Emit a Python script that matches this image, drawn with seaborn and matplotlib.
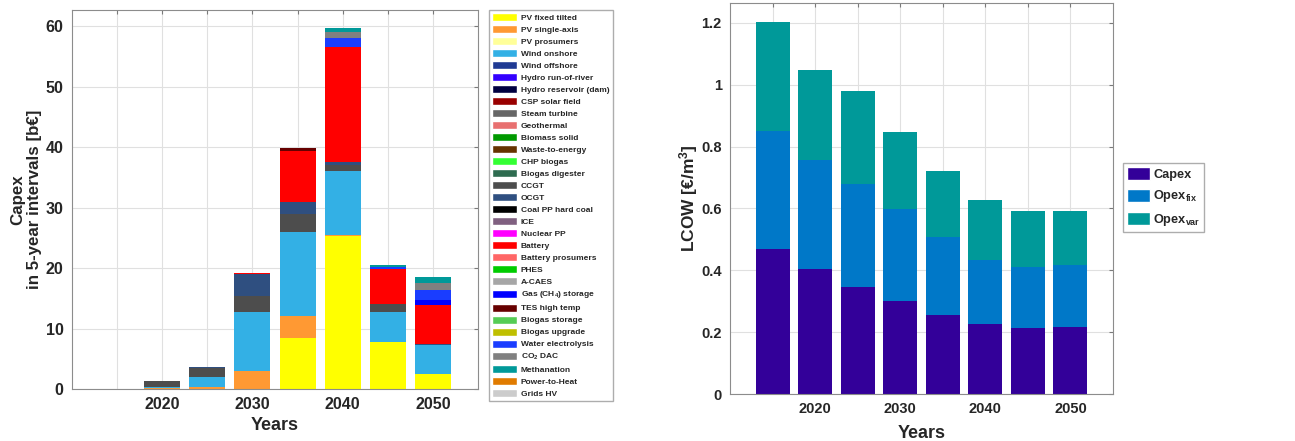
import numpy as np
import pandas as pd
import seaborn as sns
import matplotlib.pyplot as plt
from matplotlib.patches import Patch
from matplotlib.ticker import FormatStrFormatter

# ---- left chart: capex per technology (b€), 5-year steps ----
years_capex = [2020, 2025, 2030, 2035, 2040, 2045, 2050]

pv_fixed = [0, 0, 0, 8.5, 25.3, 7.8, 2.5]
pv_single = [0.2, 0.3, 3.0, 3.6, 0.1, 0, 0]
wind_on = [0.2, 1.7, 9.8, 13.9, 10.6, 4.9, 4.7]
ccgt = [0.9, 1.5, 2.6, 3.0, 1.0, 1.4, 0]
ocgt = [0, 0.1, 3.6, 2.0, 0.5, 0, 0.2]
battery = [0, 0, 0.25, 8.4, 19.0, 5.8, 6.5]
tes_high = [0, 0, 0, 0.4, 0, 0, 0]
gas_storage = [0, 0, 0, 0, 0, 0, 0.9]
electrolysis = [0, 0, 0, 0, 1.5, 0.35, 1.6]
co2_dac = [0, 0, 0, 0, 1.0, 0, 1.1]
methanation = [0, 0, 0, 0, 0.7, 0.2, 1.0]

techs = ['PV fixed tilted', 'PV single-axis', 'PV prosumers', 'Wind onshore',
         'Wind offshore', 'Hydro run-of-river', 'Hydro reservoir (dam)',
         'CSP solar field', 'Steam turbine', 'Geothermal', 'Biomass solid',
         'Waste-to-energy', 'CHP biogas', 'Biogas digester', 'CCGT', 'OCGT',
         'Coal PP hard coal', 'ICE', 'Nuclear PP', 'Battery', 'Battery prosumers',
         'PHES', 'A-CAES', 'Gas (CH$_4$) storage', 'TES high temp',
         'Biogas storage', 'Biogas upgrade', 'Water electrolysis', 'CO$_2$ DAC',
         'Methanation', 'Power-to-Heat', 'Grids HV']
tech_colors = ['#ffff00', '#ff9933', '#ffff99', '#33b0e5', '#1f3a93', '#3300ff',
               '#000040', '#990000', '#666666', '#e87070', '#009900', '#663300',
               '#33ff33', '#2e6b4f', '#4d4d4d', '#2f4f80', '#000000', '#806080',
               '#ff00ff', '#ff0000', '#ff6666', '#00cc00', '#a6a6a6', '#0000ff',
               '#660000', '#55cc55', '#bfbf00', '#1a3dff', '#808080', '#009999',
               '#e07b00', '#cccccc']

# ---- right chart: LCOW components (€/m3) ----
years_lcow = [2015, 2020, 2025, 2030, 2035, 2040, 2045, 2050]
lcow_capex = [0.469, 0.403, 0.346, 0.301, 0.257, 0.225, 0.213, 0.217]
lcow_opex_fix = [0.382, 0.355, 0.332, 0.297, 0.249, 0.209, 0.199, 0.199]
lcow_opex_var = [0.353, 0.290, 0.300, 0.249, 0.215, 0.192, 0.180, 0.174]
lcow_labels = ['Capex', 'Opex$_{fix}$', 'Opex$_{var}$']
lcow_colors = ['#330099', '#0078c8', '#009999']

series = {'PV fixed tilted': pv_fixed, 'PV single-axis': pv_single,
          'Wind onshore': wind_on, 'CCGT': ccgt, 'OCGT': ocgt, 'Battery': battery,
          'TES high temp': tes_high, 'Gas (CH$_4$) storage': gas_storage,
          'Water electrolysis': electrolysis, 'CO$_2$ DAC': co2_dac,
          'Methanation': methanation}
rows = []
for t in techs:
    vals = series.get(t, [0] * len(years_capex))
    for y, v in zip(years_capex, vals):
        rows.append((y, t, v))
df_capex = pd.DataFrame(rows, columns=['year', 'tech', 'value'])

rows = []
for lab, vals in zip(lcow_labels, [lcow_capex, lcow_opex_fix, lcow_opex_var]):
    for y, v in zip(years_lcow, vals):
        rows.append((y, lab, v))
df_lcow = pd.DataFrame(rows, columns=['year', 'part', 'value'])

sns.set_style('white')
plt.rcParams['font.family'] = ['Liberation Sans', 'DejaVu Sans']
plt.rcParams['font.weight'] = 'bold'
plt.rcParams['mathtext.fontset'] = 'custom'
plt.rcParams['mathtext.rm'] = 'Liberation Sans:bold'
plt.rcParams['mathtext.it'] = 'Liberation Sans:bold'
plt.rcParams['mathtext.bf'] = 'Liberation Sans:bold'
plt.rcParams['mathtext.default'] = 'rm'

W, H = 1295, 441
fig = plt.figure(figsize=(W / 100, H / 100), dpi=100)
ax1 = fig.add_axes([72 / W, 52 / H, 406 / W, 379 / H])
ax2 = fig.add_axes([730 / W, 47 / H, 383 / W, 391 / H])

# histplot stacks the last hue level at the bottom, so reverse the order
sns.histplot(data=df_capex, x='year', weights='value', hue='tech',
             hue_order=techs[::-1], palette=dict(zip(techs, tech_colors)),
             multiple='stack', binwidth=5, binrange=(2017.5, 2052.5), shrink=0.8,
             alpha=1, linewidth=0, legend=False, ax=ax1)
sns.histplot(data=df_lcow, x='year', weights='value', hue='part',
             hue_order=lcow_labels[::-1], palette=dict(zip(lcow_labels, lcow_colors)),
             multiple='stack', binwidth=5, binrange=(2012.5, 2052.5), shrink=0.8,
             alpha=1, linewidth=0, legend=False, ax=ax2)

for ax, fs in ((ax1, 11.5), (ax2, 10.5)):
    ax.set_xlim(2010, 2055)
    ax.set_xticks(range(2015, 2051, 5))
    ax.set_xticklabels(['', '2020', '', '2030', '', '2040', '', '2050'])
    ax.grid(True, color='#e0e0e0', linewidth=0.8)
    ax.set_axisbelow(True)
    ax.tick_params(direction='in', top=True, right=True, length=3,
                   color='#7a7a7a', labelcolor='#262626', labelsize=fs, pad=6)
    for s in ax.spines.values():
        s.set_color('#8c8c8c')
        s.set_linewidth(0.8)

ax1.set_xlabel('Years', fontsize=13, fontweight='bold', color='#262626', labelpad=3)
ax2.set_xlabel('Years', fontsize=13, fontweight='bold', color='#262626', labelpad=6)

ax1.set_ylim(0, 62.7)
ax1.set_yticks(range(0, 61, 10))
ax1.set_ylabel('Capex\nin 5-year intervals [b€]', fontsize=12.2, fontweight='bold',
               color='#262626', labelpad=3, linespacing=1.1)

ax2.set_ylim(0, 1.264)
ax2.set_yticks(np.arange(0, 1.21, 0.2))
ax2.yaxis.set_major_formatter(FormatStrFormatter('%g'))
ax2.set_ylabel('LCOW [€/m$^3$]', fontsize=12.5, fontweight='bold', color='#262626', labelpad=1)

h1 = [Patch(facecolor=c) for c in tech_colors]
fig.legend(h1, techs, loc='upper left', bbox_to_anchor=(489 / W, 1 - 10 / H),
           prop=dict(size=6.0, weight='bold'), frameon=True, fancybox=False,
           edgecolor='#999999', handlelength=3.0, handleheight=1.1,
           labelspacing=0.38, handletextpad=0.4, borderpad=0.4, borderaxespad=0)

h2 = [Patch(facecolor=c) for c in lcow_colors]
fig.legend(h2, lcow_labels, loc='upper left', bbox_to_anchor=(1123 / W, 1 - 163 / H),
           prop=dict(size=9.2, weight='bold'), frameon=True, fancybox=False,
           edgecolor='#999999', handlelength=1.8, handleheight=1.2,
           labelspacing=0.6, handletextpad=0.25, borderpad=0.3, borderaxespad=0)

fig.savefig('out.png', dpi=100)
